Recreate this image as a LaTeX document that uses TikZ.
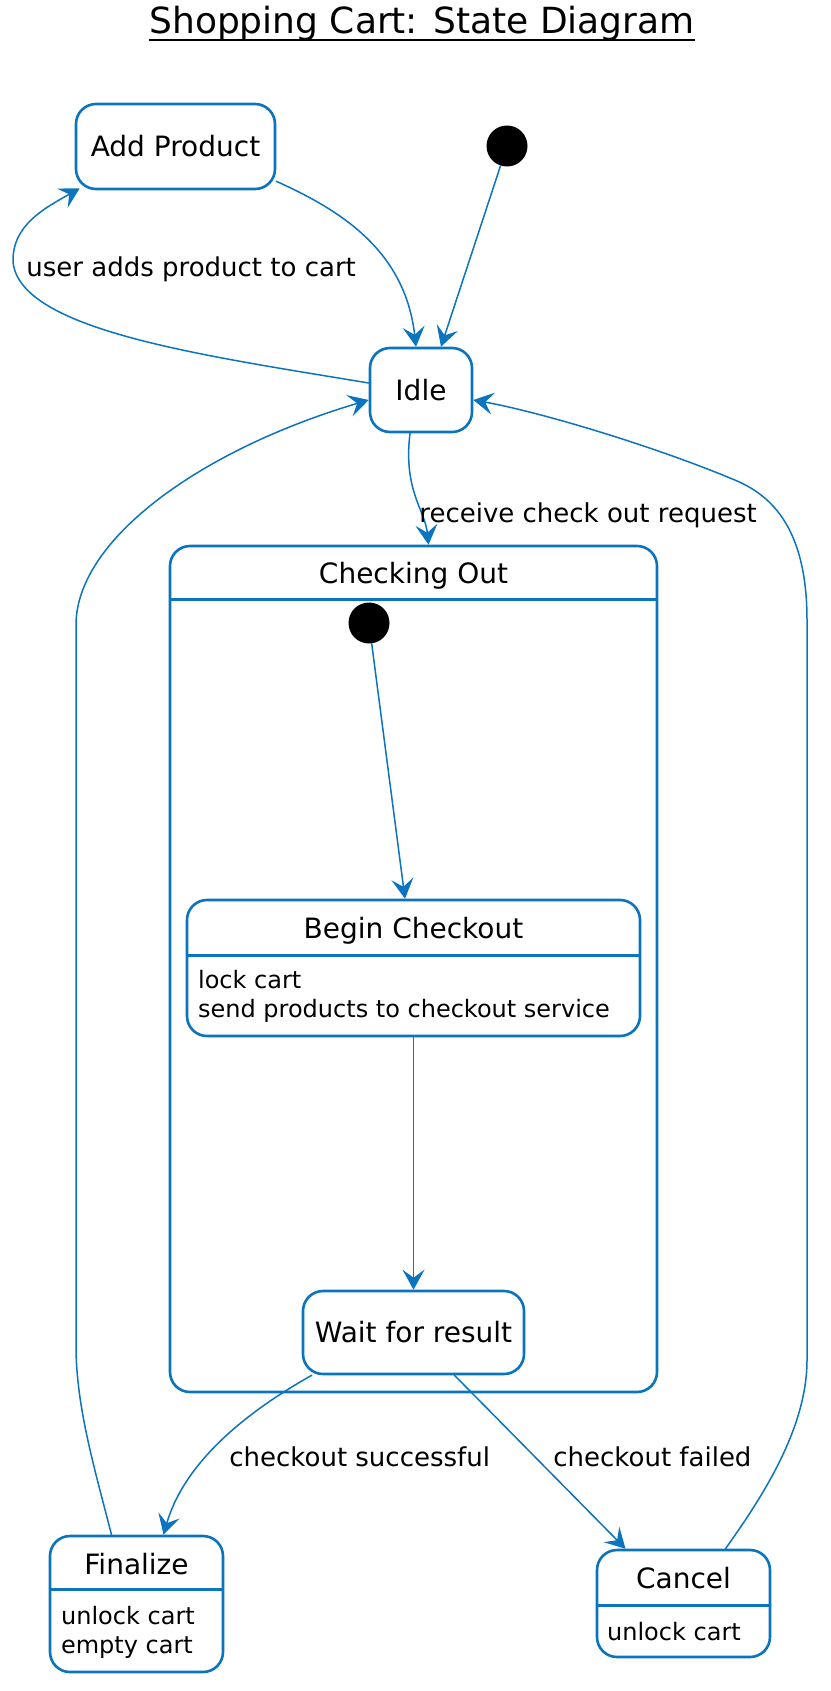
\documentclass[tikz,border=0pt]{standalone}
\usepackage{fontspec}
\setmainfont{DejaVu Sans}
\usetikzlibrary{positioning,calc,arrows.meta}

\begin{document}
\begin{tikzpicture}[x=0.5pt,y=-0.5pt,>={Stealth[length=10pt,width=11pt,inset=4pt]},line cap=round,line join=round,
	state/.style={draw=umlblue,line width=1.3pt,rounded corners=10pt,fill=white,inner sep=0pt,font=\fontsize{14}{17}\selectfont},
	startdot/.style={circle,fill=black,minimum size=20.5pt,inner sep=0pt},
	trans/.style={->,umlblue,line width=0.75pt},
	divider/.style={umlblue,line width=1.3pt,line cap=butt},
	statename/.style={inner sep=0pt,font=\fontsize{14}{17}\selectfont},
	translabel/.style={anchor=west,inner sep=0pt,font=\fontsize{13}{15}\selectfont},
	actions/.style={anchor=west,align=left,inner sep=0pt,font=\fontsize{12}{14.5}\selectfont}]
	\definecolor{umlblue}{HTML}{0A74BE}
	\useasboundingbox (0,0) rectangle (830,1691);
	
	% title
	\node[anchor=base,inner sep=0pt,font=\fontsize{18}{21}\selectfont] (title) at (422,34) {Shopping Cart: State Diagram};
	\draw[line width=0.8pt,line cap=butt] ($(title.base west)+(0,6)$) -- ($(title.base east)+(0,6)$);
	
	% outer states
	\node[startdot] (start) at (507,146) {};
	\node[state,minimum width=99.5pt,minimum height=42.5pt] (add) at (175.5,146.5) {Add Product};
	\node[state,minimum width=51pt,minimum height=42pt] (idle) at (421,390) {Idle};
	
	% composite state
	\node[state,rounded corners=10pt,minimum width=243.5pt,minimum height=423pt] (checking) at (413.5,969) {};
	\draw[divider] ($(checking.north west)+(0,55)$) -- ($(checking.north east)+(0,55)$);
	\node[statename] (checkingname) at ($(checking.north)+(0,31)$) {Checking Out};
	
	\node[startdot] (innerstart) at (369,623) {};
	\node[state,minimum width=226.5pt,minimum height=68pt] (begin) at (413.5,968) {};
	\draw[divider] ($(begin.north west)+(0,57)$) -- ($(begin.north east)+(0,57)$);
	\node[statename] (beginname) at ($(begin.north)+(0,32)$) {Begin Checkout};
	\node[actions] (beginacts) at ($(begin.west)+(12,28)$) {lock cart\\send products to checkout service};
	
	\node[state,minimum width=110.5pt,minimum height=41.5pt] (wait) at (413.5,1332.5) {Wait for result};
	
	% end states
	\node[state,minimum width=86.5pt,minimum height=68pt] (finalize) at (136.5,1604) {};
	\draw[divider] ($(finalize.north west)+(0,55)$) -- ($(finalize.north east)+(0,55)$);
	\node[statename] (finalizename) at ($(finalize.north)+(0,29)$) {Finalize};
	\node[actions] (finalizeacts) at ($(finalize.west)+(12,28.5)$) {unlock cart\\empty cart};
	
	\node[state,minimum width=86.5pt,minimum height=53.5pt] (cancel) at (683.5,1603.5) {};
	\draw[divider] ($(cancel.north west)+(0,57)$) -- ($(cancel.north east)+(0,57)$);
	\node[statename] (cancelname) at ($(cancel.north)+(0,29)$) {Cancel};
	\node[actions] (cancelacts) at ($(cancel.west)+(11,28.5)$) {unlock cart};
	
	% transitions
	\draw[trans] (start) -- ($(idle.north)+(20,0)$);
	\draw[trans] ($(add.south east)+(0,-9)$) .. controls (340,210) and (405,250) .. ($(idle.north)+(-5,0)$);
	\draw[trans] ($(idle.west)+(0,-7)$) .. controls (200,355) and (20,330) .. (13,262)
	.. controls (12,225) and (45,208) .. ($(add.south west)+(5,-2)$);
	\node[translabel] (addlabel) at (26,269) {user adds product to cart};
	
	\draw[trans] ($(idle.south)+(-11,0)$) .. controls (403,490) and (425,510) .. ($(checking.north)+(15,0)$);
	\node[translabel] (checkinglabel) at (419,515) {receive check out request};
	
	\draw[trans] (innerstart) -- ($(begin.north)+(-8.5,0)$);
	\draw[trans] (begin) -- (wait);
	
	\draw[trans] ($(wait.south west)+(10,0)$) .. controls (250,1410) and (185,1460) .. ($(finalize.north)+(27,0)$);
	\node[translabel] (oklabel) at (229,1457) {checkout successful};
	\draw[trans] ($(wait.south)+(41,0)$) -- ($(cancel.north)+(-58,0)$);
	\node[translabel] (faillabel) at (553,1457) {checkout failed};
	
	% back to idle
	\draw[trans] ($(finalize.north)+(-25,0)$) .. controls (95,1470) and (77,1410) .. (76,1350)
	-- (76,625) .. controls (76,540) and (200,450) .. ($(idle.west)+(0,10)$);
	\draw[trans] ($(cancel.north)+(42,0)$) .. controls (760,1500) and (807,1430) .. (807,1360)
	-- (807,620) .. controls (807,515) and (760,490) .. (730,478)
	.. controls (650,445) and (540,412) .. ($(idle.east)+(0,10)$);
	
\end{tikzpicture}
\end{document}
